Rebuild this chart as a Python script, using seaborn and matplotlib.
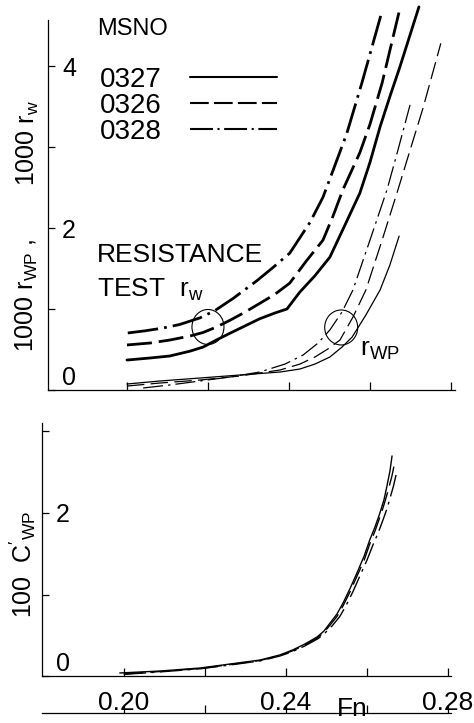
import matplotlib
matplotlib.use("Agg")
import matplotlib.pyplot as plt
import seaborn as sns
from matplotlib.lines import Line2D
from matplotlib.patches import Ellipse

# ---------------- data ----------------
# Top panel, resistance test 1000 r_w (thick lines)
fn_rw_0327 = [0.2000, 0.2057, 0.2106, 0.2156, 0.2188, 0.2222, 0.2254, 0.2291, 0.2328, 0.2365, 0.2395,
              0.2427, 0.2464, 0.2501, 0.2533, 0.2575, 0.2600, 0.2625, 0.2649, 0.2674, 0.2721]
rw_0327 = [0.37, 0.395, 0.42, 0.48, 0.53, 0.62, 0.70, 0.79, 0.88, 0.95, 1.00,
           1.21, 1.41, 1.64, 1.98, 2.43, 2.81, 3.25, 3.62, 3.99, 4.73]
fn_rw_0326 = [0.2000, 0.2057, 0.2106, 0.2156, 0.2188, 0.2222, 0.2254, 0.2291, 0.2328, 0.2365, 0.2402,
              0.2444, 0.2484, 0.2509, 0.2533, 0.2575, 0.2600, 0.2630, 0.2672]
rw_0326 = [0.556, 0.58, 0.617, 0.667, 0.71, 0.78, 0.86, 0.96, 1.07, 1.18, 1.32,
           1.60, 1.85, 2.15, 2.47, 2.93, 3.28, 3.79, 4.67]
fn_rw_0328 = [0.2002, 0.2044, 0.2089, 0.2131, 0.2180, 0.2217, 0.2262, 0.2321, 0.2360, 0.2402,
              0.2452, 0.2484, 0.2514, 0.2543, 0.2580, 0.2630]
rw_0328 = [0.704, 0.73, 0.765, 0.81, 0.89, 0.98, 1.13, 1.35, 1.51, 1.69,
           2.07, 2.38, 2.78, 3.17, 3.79, 4.68]

# Top panel, 1000 r_wp (thin lines)
fn_rwp_0327 = [0.2000, 0.2081, 0.2180, 0.2279, 0.2378, 0.2427, 0.2464, 0.2501, 0.2531, 0.2556,
               0.2590, 0.2625, 0.2649, 0.2672]
rwp_0327 = [0.074, 0.111, 0.148, 0.185, 0.222, 0.259, 0.32, 0.407, 0.53, 0.654,
            0.926, 1.235, 1.54, 1.90]
fn_rwp_0326 = [0.2000, 0.2081, 0.2180, 0.2279, 0.2378, 0.2427, 0.2464, 0.2496, 0.2526, 0.2558,
               0.2590, 0.2630, 0.2669, 0.2699, 0.2731, 0.2775]
rwp_0326 = [0.049, 0.086, 0.123, 0.173, 0.247, 0.32, 0.407, 0.506, 0.617, 0.90,
            1.235, 1.85, 2.47, 2.96, 3.48, 4.28]
fn_rwp_0328 = [0.2040, 0.2106, 0.2180, 0.2254, 0.2328, 0.2390, 0.2435, 0.2472, 0.2501, 0.2531,
               0.2558, 0.2600, 0.2642, 0.2669, 0.2699]
rwp_0328 = [0.025, 0.062, 0.111, 0.160, 0.222, 0.32, 0.432, 0.58, 0.741, 0.963,
            1.235, 1.85, 2.47, 2.96, 3.52]

# Bottom panel, 100 C'_wp
fn_cwp_0327 = [0.1990, 0.2089, 0.2188, 0.2262, 0.2336, 0.2385, 0.2417, 0.2447, 0.2477, 0.2494, 0.2509,
               0.2526, 0.2541, 0.2558, 0.2575, 0.2593, 0.2607, 0.2620, 0.2632, 0.2642, 0.2649, 0.2657, 0.2662]
cwp_0327 = [0.037, 0.061, 0.098, 0.147, 0.196, 0.258, 0.32, 0.393, 0.479, 0.552, 0.65,
            0.76, 0.895, 1.07, 1.26, 1.47, 1.67, 1.83, 2.00, 2.16, 2.32, 2.52, 2.70]
fn_cwp_0326 = [0.2000, 0.2089, 0.2188, 0.2262, 0.2336, 0.2385, 0.2417, 0.2447, 0.2477, 0.2494, 0.2509,
               0.2526, 0.2541, 0.2558, 0.2575, 0.2593, 0.2607, 0.2620, 0.2632, 0.2642, 0.2652, 0.2662, 0.2669]
cwp_0326 = [0.025, 0.055, 0.092, 0.140, 0.190, 0.250, 0.31, 0.38, 0.465, 0.535, 0.625,
            0.73, 0.86, 1.03, 1.22, 1.42, 1.62, 1.78, 1.95, 2.10, 2.27, 2.46, 2.63]
fn_cwp_0328 = [0.2000, 0.2089, 0.2188, 0.2262, 0.2336, 0.2385, 0.2417, 0.2447, 0.2480, 0.2497, 0.2515,
               0.2533, 0.2548, 0.2565, 0.2582, 0.2600, 0.2615, 0.2628, 0.2640, 0.2650, 0.2658, 0.2666, 0.2672]
cwp_0328 = [0.02, 0.05, 0.088, 0.135, 0.185, 0.245, 0.30, 0.37, 0.46, 0.53, 0.62,
            0.73, 0.86, 1.03, 1.22, 1.42, 1.61, 1.76, 1.92, 2.06, 2.20, 2.34, 2.47]

models = ["0327", "0326", "0328"]
x_ticks = [0.20, 0.22, 0.24, 0.26, 0.28]
x_ticklabels = ["0.20", "", "0.24", "", "0.28"]
top_yticks = [0, 1, 2, 3, 4]
top_yticklabels = ["0", "", "2", "", "4"]
bot_yticks = [0, 1, 2, 3]
bot_yticklabels = ["0", "", "2", ""]

# ---------------- style ----------------
sns.set_theme(style="white")
plt.rcParams["font.family"] = ["Liberation Sans", "DejaVu Sans"]
plt.rcParams["mathtext.default"] = "regular"
for key in ["text.color", "axes.labelcolor", "xtick.color", "ytick.color", "axes.edgecolor"]:
    plt.rcParams[key] = "black"
plt.rcParams["axes.linewidth"] = 0.9

thick_styles = {"0327": "-", "0326": (0, (9, 2.5)), "0328": (0, (11, 2.2, 1, 2.2))}
thin_styles = {"0327": "-", "0326": (0, (14, 5)), "0328": (0, (16, 4, 2, 4))}

W, H = 474, 723
fig = plt.figure(figsize=(W / 100, H / 100), dpi=100)

# ---------------- top panel ----------------
ax1 = fig.add_axes([48 / W, 333 / H, 407 / W, 384.75 / H])
rw = {"0327": (fn_rw_0327, rw_0327), "0326": (fn_rw_0326, rw_0326), "0328": (fn_rw_0328, rw_0328)}
rwp = {"0327": (fn_rwp_0327, rwp_0327), "0326": (fn_rwp_0326, rwp_0326), "0328": (fn_rwp_0328, rwp_0328)}
for m in models:
    x, y = rw[m]
    sns.lineplot(x=x, y=y, ax=ax1, color="black", lw=2.0, linestyle=thick_styles[m],
                 sort=False, estimator=None, clip_on=False)
    x, y = rwp[m]
    sns.lineplot(x=x, y=y, ax=ax1, color="black", lw=0.9, linestyle=thin_styles[m],
                 sort=False, estimator=None, clip_on=False)

ax1.set_xlim(0.1805, 0.2810)
ax1.set_ylim(0, 4.75)
sns.despine(ax=ax1)
ax1.spines["left"].set_bounds(0, 4.57)
ax1.set_xticks(x_ticks)
ax1.set_xticklabels([])
ax1.set_yticks(top_yticks)
ax1.set_yticklabels(top_yticklabels, fontsize=18)
ax1.tick_params(axis="x", direction="in", length=6, width=0.9, bottom=True)
ax1.tick_params(axis="y", direction="in", length=5, width=0.9, pad=-10, left=True)
for lbl in ax1.get_yticklabels():
    lbl.set_horizontalalignment("left")
    if lbl.get_text() == "0":
        lbl.set_verticalalignment("bottom")
ax1.set_xlabel("")
ax1.set_ylabel("")

# circles marking the curve groups
ax1.add_patch(Ellipse((0.2200, 0.778), 32 / 4050, 35 / 81, fill=False, lw=0.8, color="black"))
ax1.add_patch(Ellipse((0.2529, 0.772), 33 / 4050, 35 / 81, fill=False, lw=0.8, color="black"))

fig.text(97 / W, 1 - 255 / H, "RESISTANCE", fontsize=19, va="center", ha="left")
fig.text(97 / W, 1 - 290 / H, "TEST  $r_w$", fontsize=19, va="center", ha="left")
fig.text(360 / W, 1 - 350 / H, "$r_{WP}$", fontsize=19, va="center", ha="left")

# legend
fig.text(97 / W, 1 - 29 / H, "MSNO", fontsize=17, va="center", ha="left")
handles = [Line2D([], [], color="black", lw=1.5, linestyle=thick_styles[m]) for m in models]
leg = ax1.legend(handles, models, loc="upper left",
                 bbox_to_anchor=(100 / W, 1 - 67 / H), bbox_transform=fig.transFigure,
                 frameon=False, markerfirst=False, fontsize=20,
                 handlelength=3.15, handletextpad=1.0, labelspacing=0.0,
                 borderpad=0, borderaxespad=0)

fig.text(28 / W, 1 - 143 / H, "1000 $r_w$", rotation=90, fontsize=18, va="center", ha="center")
fig.text(27 / W, 1 - 295 / H, "1000 $r_{WP}$ ,", rotation=90, fontsize=18, va="center", ha="center")

# ---------------- bottom panel ----------------
ax2 = fig.add_axes([42 / W, 47 / H, 409.2 / W, 252.65 / H])
cwp = {"0327": (fn_cwp_0327, cwp_0327), "0326": (fn_cwp_0326, cwp_0326), "0328": (fn_cwp_0328, cwp_0328)}
for m in models:
    x, y = cwp[m]
    sns.lineplot(x=x, y=y, ax=ax2, color="black", lw=1.0, linestyle=thin_styles[m],
                 sort=False, estimator=None)
ax2.set_xlim(0.1798, 0.2808)
ax2.set_ylim(0, 3.10)
sns.despine(ax=ax2)
ax2.set_xticks(x_ticks)
ax2.set_xticklabels(x_ticklabels, fontsize=19)
ax2.set_yticks(bot_yticks)
ax2.set_yticklabels(bot_yticklabels, fontsize=18)
ax2.tick_params(axis="x", direction="in", length=6, width=0.9, pad=11, bottom=True)
ax2.tick_params(axis="y", direction="in", length=5, width=0.9, pad=-10, left=True)
for lbl in ax2.get_yticklabels():
    lbl.set_horizontalalignment("left")
    if lbl.get_text() == "0":
        lbl.set_verticalalignment("bottom")
ax2.set_xlabel("")
ax2.set_ylabel("")

sec = ax2.secondary_xaxis(-37 / 252.65)
sec.set_xticks(x_ticks)
sec.set_xticklabels([])
sec.tick_params(axis="x", direction="in", length=6, width=0.9)
sec.spines["bottom"].set_linewidth(0.9)

fig.text(352 / W, 1 - 709 / H, "Fn", fontsize=19, va="center", ha="center")
fig.text(23 / W, 1 - 564 / H, "100  $C'_{WP}$", rotation=90, fontsize=18, va="center", ha="center")

fig.savefig("out.png", dpi=100, facecolor="white")
